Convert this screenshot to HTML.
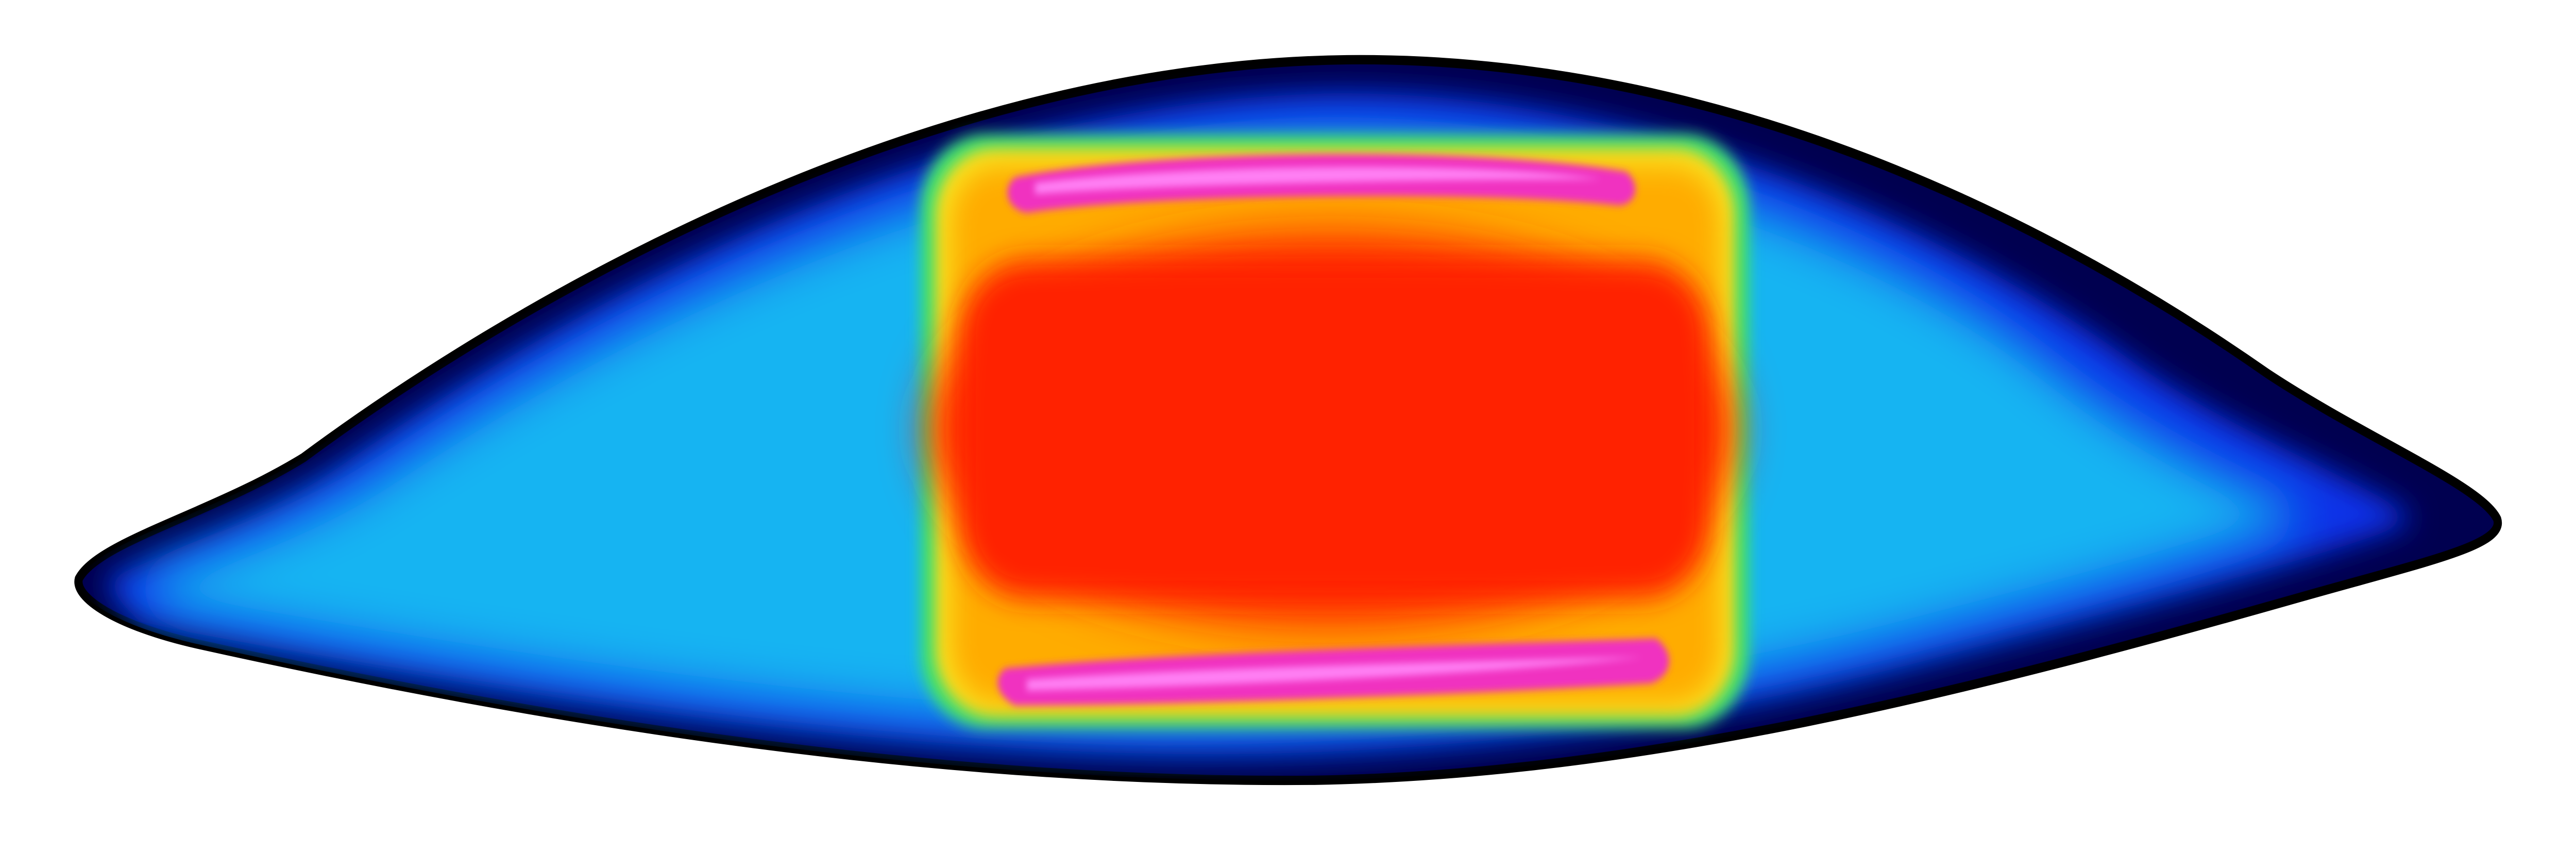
<!DOCTYPE html>
<html><head><meta charset="utf-8"><title>Field heatmap</title>
<style>html,body{margin:0;padding:0;background:#fff;width:100vw;height:100vh;overflow:hidden}svg{display:block;position:absolute;left:0;top:0;width:100vw;height:100vh}</style>
</head><body>
<svg viewBox="0 0 1568 465" preserveAspectRatio="none" xmlns="http://www.w3.org/2000/svg">
<defs>
<filter id="b2" x="-20%" y="-20%" width="140%" height="140%"><feGaussianBlur stdDeviation="2"/></filter>
<filter id="b4" x="-20%" y="-20%" width="140%" height="140%"><feGaussianBlur stdDeviation="4"/></filter>
<filter id="b8" x="-20%" y="-20%" width="140%" height="140%"><feGaussianBlur stdDeviation="8"/></filter>
<filter id="b14" x="-20%" y="-20%" width="140%" height="140%"><feGaussianBlur stdDeviation="14"/></filter>
<clipPath id="outerClip"><path d="M48,310 C60,290 130,275 185,245 C300,170 550,35 820,32 C1050,30 1250,120 1380,200 C1440,235 1510,260 1520,278 C1525,292 1480,300 1400,320 C1200,370 1000,415 800,418 C550,420 300,380 120,345 C70,335 45,320 48,310 Z"/></clipPath>
</defs>
<rect width="1568" height="465" fill="#fff"/>
<path d="M48,310 C60,290 130,275 185,245 C300,170 550,35 820,32 C1050,30 1250,120 1380,200 C1440,235 1510,260 1520,278 C1525,292 1480,300 1400,320 C1200,370 1000,415 800,418 C550,420 300,380 120,345 C70,335 45,320 48,310 Z" fill="#000050" stroke="#000" stroke-width="5"/>
<g clip-path="url(#outerClip)">
<path filter="url(#b8)" fill="#0a30e8" d="M62,312 C110,292 165,276 210,248 C330,175 555,55 810,50 C1010,48 1200,130 1300,195 C1360,232 1440,258 1470,278 C1440,292 1340,315 1180,352 C1020,390 870,405 720,404 C500,402 260,365 85,333 Z"/>
<path filter="url(#b14)" fill="#12b4f2" d="M78,314 C125,296 185,281 235,252 C355,182 565,78 800,72 C1000,70 1170,140 1250,198 C1310,240 1370,262 1405,276 C1380,290 1290,312 1140,346 C1000,376 860,390 700,390 C500,388 260,352 105,328 Z"/>
</g>
<rect filter="url(#b4)" x="560" y="72" width="505" height="318" rx="40" fill="#3ce070"/>
<rect filter="url(#b4)" x="570" y="80" width="485" height="303" rx="35" fill="#f8e820"/>
<rect filter="url(#b8)" x="578" y="88" width="470" height="290" rx="30" fill="#ffac00"/>
<ellipse filter="url(#b14)" cx="810" cy="230" rx="245" ry="105" fill="#ff2a00"/>
<rect filter="url(#b8)" x="585" y="140" width="455" height="180" rx="40" fill="#ff2400"/>
<path filter="url(#b2)" fill="#f030c0" d="M618,95 C700,80 900,78 990,92 C1000,100 995,110 985,110 C900,102 700,104 625,114 C612,112 610,100 618,95 Z"/>
<path filter="url(#b2)" fill="#ff80f4" d="M630,98 C720,88 900,86 975,96 C900,96 720,98 630,104 Z"/>
<path filter="url(#b2)" fill="#f030c0" d="M612,358 C700,350 900,345 1008,342 C1020,350 1018,362 1005,366 C900,372 700,378 618,378 C605,372 605,362 612,358 Z"/>
<path filter="url(#b2)" fill="#ff80f4" d="M625,364 C720,358 900,354 1000,352 C900,362 720,368 625,370 Z"/>
</svg>
</body></html>
